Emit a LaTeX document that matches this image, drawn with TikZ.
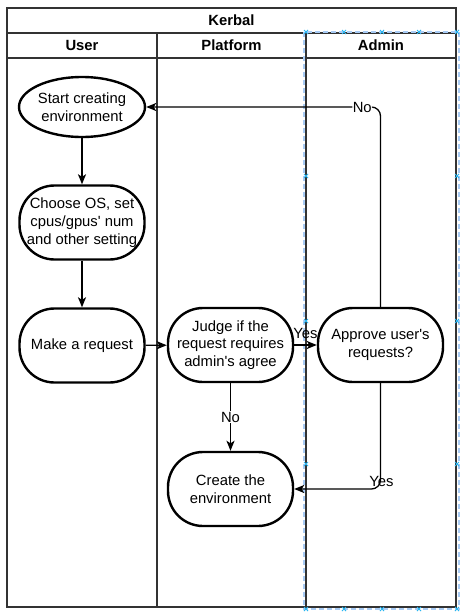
\documentclass[tikz,border=0pt]{standalone}
\usepackage{fontspec}
\setmainfont{Liberation Sans}
\usetikzlibrary{shapes.geometric,arrows.meta}
\definecolor{ink}{HTML}{000000}
\definecolor{selblue}{HTML}{A9CCF5}
\definecolor{mark}{HTML}{29B6F2}
\tikzset{
  lane/.style={draw=ink!80, line width=1.4pt},
  hdr/.style={font=\fontsize{14.8}{17.7}\selectfont\bfseries, inner sep=0pt},
  proc/.style={draw=ink, line width=2.4pt, rectangle, rounded corners=35pt,
    minimum width=125pt, minimum height=74pt, align=center, inner sep=0pt,
    font=\fontsize{14.8}{17.7}\selectfont},
  startnode/.style={draw=ink, line width=2.4pt, ellipse,
    minimum width=126pt, minimum height=60pt, align=center, inner sep=0pt,
    font=\fontsize{14.8}{17.7}\selectfont},
  arr/.style={draw=ink, line width=1.3pt, -{Stealth[length=10pt,width=8pt,inset=2.5pt]}},
  lbl/.style={font=\fontsize{14.8}{17.7}\selectfont, fill=white, inner sep=0.5pt},
  selx/.style={draw=mark, line width=0.9pt}
}
\begin{document}
\begin{tikzpicture}[x=1pt,y=-1pt]
\useasboundingbox[fill=white] (0,0) rectangle (469,616);
% swimlane frame
\draw[lane] (7,8) rectangle (456,607);
\draw[lane] (7,33) -- (456,33);
\draw[lane] (7,58) -- (456,58);
\draw[lane] (157,33) -- (157,607);
\draw[lane] (306,33) -- (306,607);
\node[hdr] (title) at (231.5,20.5) {Kerbal};
\node[hdr] (huser) at (82,45.5) {User};
\node[hdr] (hplat) at (231.5,45.5) {Platform};
\node[hdr] (hadmin) at (381,45.5) {Admin};
% selection outline
\draw[selblue, line width=1.2pt, dash pattern=on 5pt off 3pt] (304,32) rectangle (459,609);
\foreach \px in {306,344,382,419,457}{
  \draw[selx] (\px-2,32-2) -- (\px+2,32+2) (\px-2,32+2) -- (\px+2,32-2);
  \draw[selx] (\px-2,609-2) -- (\px+2,609+2) (\px-2,609+2) -- (\px+2,609-2);
}
\foreach \px in {306,457}{
  \foreach \py in {176,321,464}{
    \draw[selx] (\px-2,\py-2) -- (\px+2,\py+2) (\px-2,\py+2) -- (\px+2,\py-2);
  }
}
% nodes
\node[startnode] (start) at (82,107) {Start creating\\environment};
\node[proc] (choose) at (82,222.5) {Choose OS, set\\cpus/gpus\textquotesingle{} num\\and other setting};
\node[proc] (make) at (82,345.5) {Make a request};
\node[proc] (judge) at (230.5,345) {Judge if the\\request requires\\admin\textquotesingle{}s agree};
\node[proc] (approve) at (380.5,345) {Approve user\textquotesingle{}s\\requests?};
\node[proc] (create) at (230.5,489) {Create the\\environment};
% connectors
\draw[arr] (start) -- (choose);
\draw[arr] (choose) -- (make);
\draw[arr] (make) -- (judge);
\draw[arr] (judge) -- node[lbl, pos=0.5, yshift=12pt, fill=none] {Yes} (approve);
\draw[arr] (judge) -- node[lbl, pos=0.5] {No} (create);
\draw[arr, rounded corners=9pt] (approve.north) |- node[lbl, pos=0.539] {No} (start.east);
\draw[arr, rounded corners=9pt] (approve.south) |- node[lbl, pos=0.5, yshift=8pt, xshift=1pt, fill=none] {Yes} (create.east);
\end{tikzpicture}
\end{document}
